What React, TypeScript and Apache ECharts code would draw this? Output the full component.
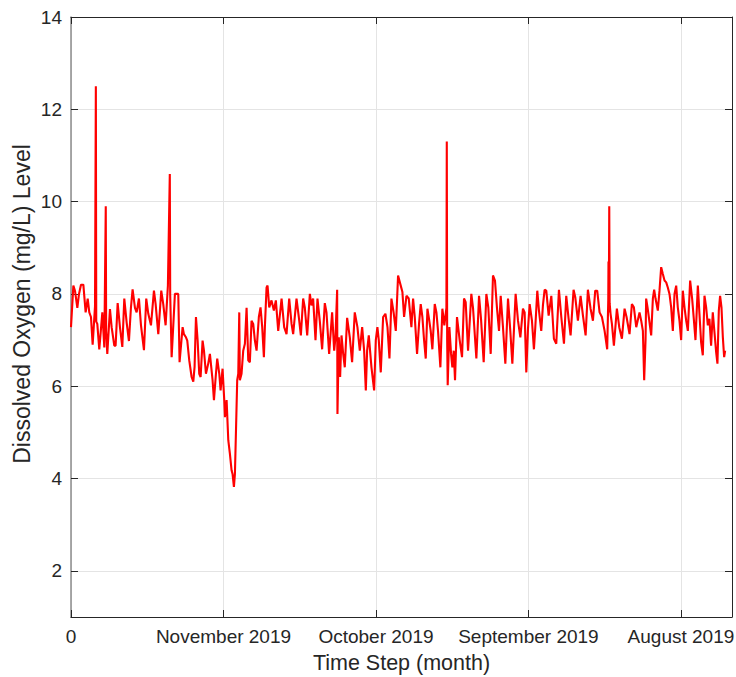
import React, { useEffect, useRef } from "react";
import * as echarts from "echarts";

// Time step (x) and dissolved oxygen level (y)
const timeStep = [
  0, 3.1, 5.2, 8.3, 10.5, 13.1, 16.2, 19.2, 21.9, 24.0, 26.2, 28.4, 31.5, 32.6, 33.1, 34.5, 37.1, 41.1, 43.7, 45.6,
  46.1, 47.6, 51.1, 53.3, 56.8, 58.5, 61.2, 64.2, 67.3, 69.9, 73.0, 76.0, 78.6, 80.8, 83.9, 86.1, 89.1, 91.8, 95.7, 98.7,
  101.4, 104.9, 108.8, 111.0, 114.5, 118.4, 121.0, 124.1, 127.1, 129.6, 130.1, 132.0, 136.3, 140.7, 142.4,
  146.4, 148.1, 150.8, 152.5, 155.1, 158.2, 160.4, 162.1, 163.9, 166.1, 168.2, 170.0, 172.6, 174.4, 177.0, 180.0, 182.2,
  185.7, 187.5, 190.1, 191.8, 194.5, 196.2, 198.8, 201.0, 201.9, 204.1, 206.3, 208.4, 210.6, 211.9, 213.7, 215.0, 216.3,
  218.0, 219.4, 220.7, 221.5, 223.7, 225.9, 228.1, 230.3, 232.5, 234.6, 236.8, 239.0, 241.2, 243.4, 246.4, 248.6, 250.8,
  253.0, 254.3, 256.5, 257.8, 260.0, 263.0, 266.1, 268.7, 271.8, 276.2, 279.6, 282.7, 286.2, 289.3, 291.4,
  295.8, 298.8, 301.5, 304.5, 306.7, 309.8, 313.3, 315.4, 317.6, 320.7, 323.3, 326.4, 329.4, 332.9, 335.1, 338.6, 342.5,
  345.2, 346.9, 349.1, 349.5, 351.3, 353.0, 354.8, 357.0, 359.1, 362.2, 365.7, 368.7, 372.2, 375.7, 378.8, 381.9, 384.5,
  386.7, 388.4, 390.6, 394.1, 397.6, 399.8, 401.9, 403.7, 406.3, 409.4, 412.4, 415.1, 417.7, 420.3, 423.4, 426.0, 429.0,
  432.5, 434.7, 436.9, 440.0, 443.0,
  446.5, 448.7, 450.9, 453.9, 456.5, 458.7, 460.9, 463.1, 465.3, 467.5, 469.6, 471.8, 474.0, 477.1, 479.3, 481.4, 484.5,
  487.1, 489.7, 492.4, 492.9, 493.4, 494.1, 496.3, 498.5, 500.2, 502.0, 503.7, 506.3, 509.8, 512.9, 515.5, 517.7, 520.8,
  525.1, 527.3, 531.7, 535.2, 537.8, 541.3, 544.8, 547.4, 550.5, 553.5, 556.1, 558.8, 561.4, 563.6, 566.6, 569.7, 573.2,
  576.2, 578.9, 583.2, 586.3, 589.4, 592.8, 595.0,
  597.2, 599.4, 601.6, 604.6, 607.2, 609.0, 611.6, 613.8, 616.8, 619.0, 621.2, 623.4, 626.5, 630.0, 633.4, 636.5, 640.0,
  643.1, 646.6, 649.6, 652.7, 655.3, 659.2, 661.4, 664.9, 668.4, 671.5, 675.0, 678.0, 681.5, 684.6, 687.6, 690.2, 693.3,
  696.4, 699.9, 703.3, 704.7, 705.0, 705.4, 706.0, 706.5, 707.7, 709.5, 712.1, 716.0, 719.1, 722.6, 726.1, 728.7, 732.6,
  735.7, 738.3, 741.4,
  745.7, 747.9, 750.1, 751.8, 753.6, 754.4, 756.2, 757.9, 761.0, 763.2, 764.9, 766.7, 769.7, 771.9, 774.1, 776.3, 778.5,
  780.7, 782.8, 785.0, 787.2, 789.4, 791.6, 793.8, 795.9, 798.1, 800.3, 802.5, 804.7, 806.9, 809.1, 812.1, 814.7, 816.9,
  819.1, 822.2, 824.3, 826.5, 828.7, 830.9, 833.1, 835.3, 837.4, 839.6, 841.8, 844.0, 846.2, 847.9, 849.7, 851.4, 853.2,
  855.0, 856.7, 858.0,
];

const doLevel = [
  7.28, 8.18, 8.07, 7.7, 8.0, 8.2, 8.2, 7.6, 7.9, 7.6, 7.5, 6.9, 7.73, 12.5, 7.4, 7.35, 6.8, 7.6, 6.84, 9.9,
  7.2, 6.7, 7.67, 7.28, 6.88, 6.88, 7.8, 7.28, 6.85, 7.9, 7.38, 6.98, 7.7, 8.1, 7.7, 7.6, 7.9, 7.32, 6.78, 7.9,
  7.57, 7.32, 8.07, 7.78, 7.13, 8.07, 7.78, 7.32, 8.18, 10.6, 8.0, 6.63, 8.0, 8.0, 6.52,
  7.28, 7.13, 7.06, 6.99, 6.56, 6.2, 6.1, 6.42, 7.5, 6.99, 6.27, 6.2, 6.99, 6.77, 6.27, 6.49, 6.7,
  6.13, 5.7, 6.27, 6.6, 6.27, 5.91, 6.38, 5.7, 5.33, 5.7, 4.83, 4.54, 4.18, 4.1, 3.82, 4.1, 4.97,
  6.13, 6.27, 7.6, 6.13, 6.27, 6.77, 6.92, 7.7, 6.56, 6.52, 7.42, 7.35, 6.99, 6.77, 7.5, 7.71, 7.28,
  6.63, 7.28, 8.14, 8.18, 7.71, 7.86, 7.64, 7.86, 7.2, 7.9, 7.28, 7.13, 7.9, 7.35, 7.13,
  7.9, 7.5, 7.1, 7.9, 7.7, 7.1, 8.0, 7.75, 7.9, 7.0, 7.9, 7.4, 6.8, 7.8, 7.6, 6.7, 7.6,
  6.77, 7.06, 8.09, 5.4, 7.06, 6.2, 7.1, 6.7, 6.41, 7.48, 7.06, 6.52, 7.6, 7.28, 6.77, 7.28, 6.77,
  5.91, 6.77, 7.1, 6.41, 5.91, 7.0, 7.28, 7.0, 6.3, 7.5, 7.57, 7.28, 6.6, 7.9, 7.57, 7.2, 8.4,
  8.18, 8.04, 7.5, 7.96, 7.9,
  7.28, 7.9, 7.5, 6.7, 7.35, 7.78, 7.5, 7.0, 6.6, 7.68, 7.46, 7.2, 6.8, 7.78, 7.6, 7.2, 6.41,
  7.68, 7.32, 7.7, 11.3, 7.0, 6.02, 7.28, 6.7, 6.41, 6.77, 6.13, 7.5, 7.0, 6.63, 7.9, 7.82, 6.77,
  8.0, 7.7, 6.6, 7.96, 7.46, 6.52, 8.0, 7.7, 6.7, 8.4, 8.29, 7.68, 7.2, 7.96, 7.28, 6.49, 7.9,
  7.2, 6.49, 8.0, 7.42, 7.06, 7.68, 7.6,
  6.3, 7.24, 7.78, 7.42, 6.8, 7.28, 8.07, 7.64, 7.2, 7.75, 8.09, 8.07, 7.53, 7.96, 7.03, 6.92, 8.09,
  7.5, 6.92, 7.96, 7.46, 7.1, 8.09, 7.93, 7.42, 7.96, 7.53, 7.1, 8.09, 7.68, 7.42, 8.07, 8.07, 7.6,
  7.5, 7.2, 6.8, 7.86, 8.7, 7.6, 9.9, 7.8, 7.57, 7.35, 6.88, 7.68, 7.28, 7.03, 7.68, 7.5, 7.13,
  7.78, 7.71, 7.28,
  7.6, 7.42, 7.2, 6.13, 7.0, 7.9, 7.71, 7.5, 7.1, 7.9, 8.09, 7.9, 7.64, 8.07, 8.58, 8.43, 8.29,
  8.25, 8.14, 8.0, 7.71, 7.2, 8.0, 8.18, 7.71, 7.42, 7.0, 8.07, 7.71, 7.42, 7.2, 8.29, 7.9, 7.46,
  7.0, 8.18, 7.57, 6.95, 6.67, 7.96, 7.71, 7.32, 7.46, 6.88, 7.6, 7.17, 6.74, 6.49, 7.64, 7.96, 7.71,
  7.06, 6.63, 6.77,
];

const xTickValues = [0, 200, 400, 600, 800];
const xTickLabels = ["0", "November 2019", "October 2019", "September 2019", "August 2019"];
const yTickValues = [2, 4, 6, 8, 10, 12, 14];
const xMax = 867;
const yMin = 1;
const yMax = 14;

export default function App() {
  const ref = useRef<HTMLDivElement>(null);

  useEffect(() => {
    if (!ref.current) return;
    const chart = echarts.init(ref.current, null, { renderer: "svg" });
    const font = "'Liberation Sans', Arial, Helvetica, sans-serif";
    const dark = "#262626";
    const gridColor = "#e4e4e4";
    const points = timeStep.map((t, i) => [t, doLevel[i]]);

    chart.setOption({
      animation: false,
      backgroundColor: "#ffffff",
      grid: { left: 71, right: 4, top: 17, bottom: 60, containLabel: false, outerBoundsMode: "none" },
      xAxis: [
        {
          type: "value",
          min: 0,
          max: xMax,
          position: "bottom",
          axisLine: { show: true, onZero: false, lineStyle: { color: dark, width: 1 } },
          axisTick: { show: true, inside: true, length: 7, customValues: xTickValues, lineStyle: { color: dark } },
          axisLabel: {
            customValues: xTickValues,
            formatter: (v: number) => {
              const i = xTickValues.indexOf(v);
              return i >= 0 ? xTickLabels[i] : "";
            },
            fontSize: 19,
            color: dark,
            margin: 10,
            fontFamily: font,
          },
          splitLine: { show: true, lineStyle: { color: gridColor, width: 1 } },
          name: "Time Step (month)",
          nameLocation: "middle",
          nameGap: 35,
          nameTextStyle: { fontSize: 21.5, color: dark, fontFamily: font },
        },
        {
          type: "value",
          min: 0,
          max: xMax,
          position: "top",
          axisLine: { show: true, onZero: false, lineStyle: { color: dark, width: 1 } },
          axisTick: { show: true, inside: true, length: 7, customValues: xTickValues, lineStyle: { color: dark } },
          axisLabel: { show: false },
          splitLine: { show: false },
        },
      ],
      yAxis: [
        {
          type: "value",
          min: yMin,
          max: yMax,
          position: "left",
          axisLine: { show: true, onZero: false, lineStyle: { color: "#8c8c8c", width: 1.5 } },
          axisTick: { show: true, inside: true, length: 7, customValues: yTickValues, lineStyle: { color: dark } },
          axisLabel: { customValues: yTickValues, fontSize: 19, color: dark, margin: 9, fontFamily: font },
          splitLine: { show: true, lineStyle: { color: gridColor, width: 1 } },
        },
        {
          type: "value",
          min: yMin,
          max: yMax,
          position: "right",
          axisLine: { show: true, onZero: false, lineStyle: { color: dark, width: 1 } },
          axisTick: { show: true, inside: true, length: 7, customValues: yTickValues, lineStyle: { color: dark } },
          axisLabel: { show: false },
          splitLine: { show: false },
        },
      ],
      series: [
        {
          type: "line",
          xAxisIndex: 0,
          yAxisIndex: 0,
          data: points,
          symbol: "none",
          showSymbol: false,
          clip: true,
          lineStyle: { color: "#ff0000", width: 2.1 },
        },
      ],
      graphic: [
        {
          type: "text",
          x: 22,
          y: 304,
          rotation: Math.PI / 2,
          style: {
            text: "Dissolved Oxygen (mg/L) Level",
            fontSize: 23,
            fontFamily: font,
            fill: dark,
            align: "center",
            verticalAlign: "middle",
          },
        },
      ],
    });

    return () => chart.dispose();
  }, []);

  return <div ref={ref} style={{ position: "fixed", left: 0, top: 0, width: 736, height: 677 }} />;
}
